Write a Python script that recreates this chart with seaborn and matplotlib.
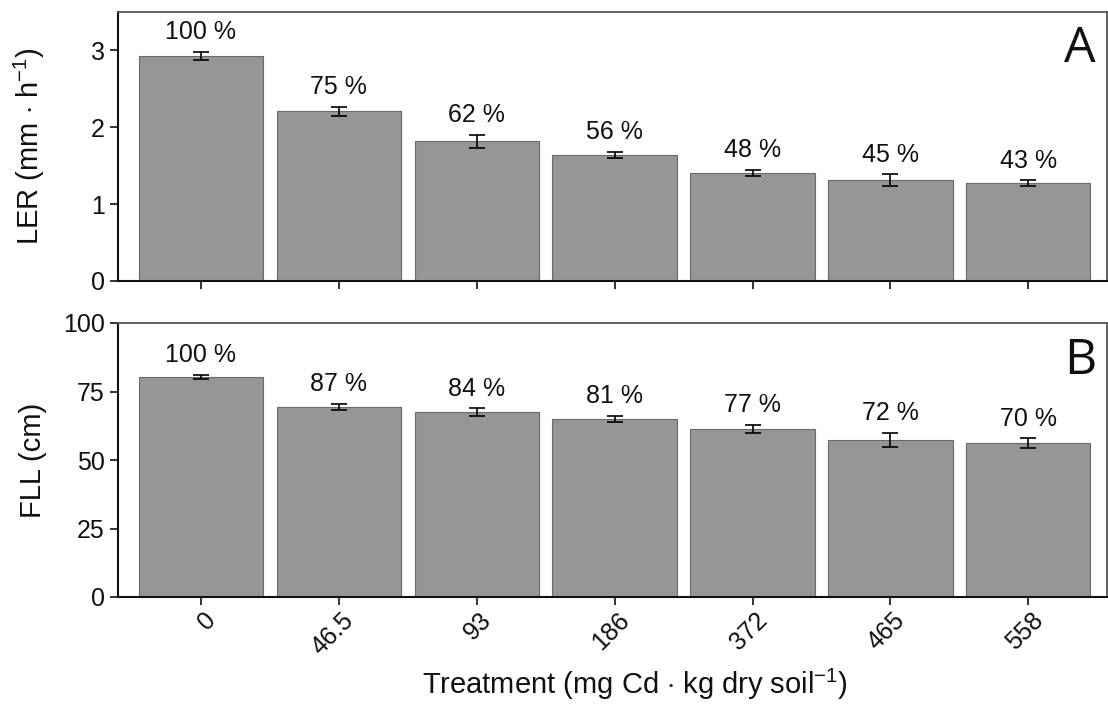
import matplotlib
matplotlib.use("Agg")
import matplotlib.pyplot as plt
import matplotlib.transforms as mtransforms
import seaborn as sns
import pandas as pd

treatments = ["0", "46.5", "93", "186", "372", "465", "558"]
ler_mean = [2.93, 2.21, 1.82, 1.64, 1.41, 1.31, 1.27]
ler_err = [0.05, 0.06, 0.085, 0.04, 0.04, 0.08, 0.04]
ler_pct = ["100 %", "75 %", "62 %", "56 %", "48 %", "45 %", "43 %"]
fll_mean = [80.2, 69.3, 67.4, 64.9, 61.4, 57.3, 56.2]
fll_err = [0.8, 1.1, 1.4, 1.2, 1.4, 2.7, 1.7]
fll_pct = ["100 %", "87 %", "84 %", "81 %", "77 %", "72 %", "70 %"]

sns.set_style("ticks")
plt.rcParams["font.family"] = ["Liberation Sans", "DejaVu Sans"]
plt.rcParams["mathtext.fontset"] = "custom"
plt.rcParams["mathtext.rm"] = "Liberation Sans"
plt.rcParams["mathtext.it"] = "Liberation Sans:italic"
plt.rcParams["mathtext.bf"] = "Liberation Sans:bold"

fig = plt.figure(figsize=(11.08, 7.16), dpi=100)
W, H = 1108, 716
left = 118 / W
width = 989 / W
ax1 = fig.add_axes([left, 1 - 281 / H, width, (281 - 12) / H])
ax2 = fig.add_axes([left, 1 - 597 / H, width, (597 - 323) / H])

bar_color = "#969696"
edge_color = "#6a6a6a"

def panel(ax, means, errs, pcts, ylim, yticks, ylabel, letter, show_xlabels):
    df = pd.DataFrame({"Treatment": treatments, "value": means})
    sns.barplot(data=df, x="Treatment", y="value", order=treatments,
                color=bar_color, saturation=1, edgecolor=edge_color,
                linewidth=0.8, width=0.9, errorbar=None, ax=ax)
    ax.errorbar(range(len(treatments)), means, yerr=errs, fmt="none",
                ecolor="black", elinewidth=1.2, capsize=6, capthick=1.2)
    for i, (m, e, p) in enumerate(zip(means, errs, pcts)):
        ax.annotate(p, (i, m + e), xytext=(0, 5.5), textcoords="offset points",
                    ha="center", va="bottom", fontsize=18, color="#111111")
    ax.set_xlim(-0.6, 6.57)
    ax.set_ylim(*ylim)
    ax.set_yticks(yticks)
    ax.tick_params(axis="both", direction="out", length=6, width=1.2,
                   labelsize=18, colors="#111111")
    ax.set_ylabel(ylabel, fontsize=21, color="#111111")
    ax.yaxis.set_label_coords(-0.072, 0.5)
    ax.set_xlabel("")
    for s in ["left", "bottom"]:
        ax.spines[s].set_color("#111111")
        ax.spines[s].set_linewidth(1.5)
    for s in ["top", "right"]:
        ax.spines[s].set_color("#555555")
        ax.spines[s].set_linewidth(1.3)
    ax.text(0.973, 0.86, letter, transform=ax.transAxes, fontsize=36,
            family=["Open Sans", "DejaVu Sans"], ha="center", va="center",
            color="#111111")
    if not show_xlabels:
        ax.set_xticklabels([])
    else:
        ax.set_xticks(range(len(treatments)))
        labels = ax.set_xticklabels(treatments, rotation=45, ha="right",
                                    rotation_mode="anchor", va="center")
        shift = mtransforms.ScaledTranslation(11 / 100, -6 / 100,
                                              fig.dpi_scale_trans)
        for lab in labels:
            lab.set_transform(lab.get_transform() + shift)

panel(ax1, ler_mean, ler_err, ler_pct, (0, 3.5), [0, 1, 2, 3],
      r"LER (mm $\cdot$ h$^{-1}$)", "A", False)
panel(ax2, fll_mean, fll_err, fll_pct, (0, 100), [0, 25, 50, 75, 100],
      "FLL (cm)", "B", True)

ax2.set_xlabel(r"Treatment (mg Cd $\cdot$ kg dry soil$^{-1}$)", fontsize=21,
               color="#111111")
ax2.xaxis.set_label_coords(0.523, -0.255)

fig.savefig("out.png", dpi=100)
